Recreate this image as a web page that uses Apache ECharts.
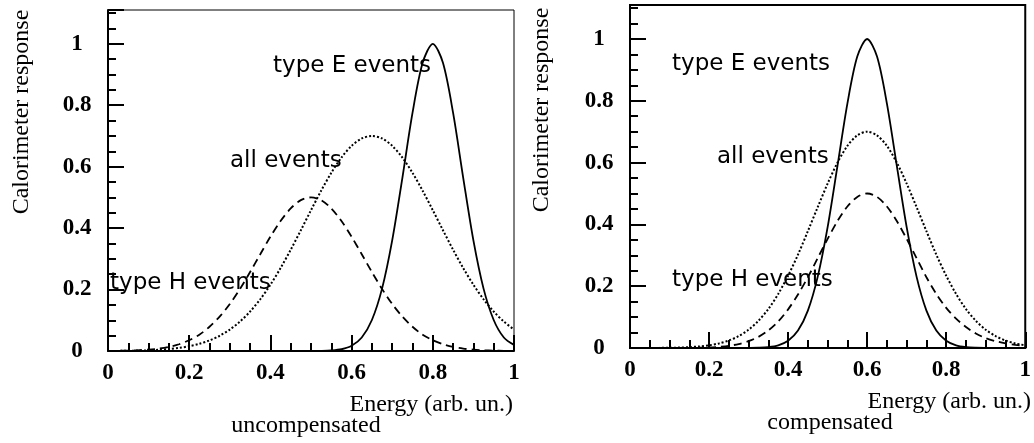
<!DOCTYPE html>
<html>
<head>
<meta charset="utf-8">
<script src="https://cdn.jsdelivr.net/npm/echarts@6/dist/echarts.min.js"></script>
<style>
html,body{margin:0;padding:0;background:#fff;}
#chart{width:1034px;height:443px;}
</style>
</head>
<body>
<div id="chart"></div>
<script>
// Energy grid (arb. un.)
const energy = [0,0.025,0.05,0.075,0.1,0.125,0.15,0.175,0.2,0.225,0.25,0.275,0.3,0.325,0.35,0.375,0.4,0.425,0.45,0.475,0.5,0.525,0.55,0.575,0.6,0.625,0.65,0.675,0.7,0.725,0.75,0.775,0.8,0.825,0.85,0.875,0.9,0.925,0.95,0.975,1];

// Uncompensated panel
const uncompTypeE = [0,0,0,0,0,0,0,0,0,0,0,0,0,0,0,0,0,0,0,0,0.0001,0.0004,0.0017,0.0057,0.017,0.044,0.101,0.203,0.36,0.563,0.775,0.938,1,0.938,0.775,0.563,0.36,0.203,0.101,0.044,0.02];
const uncompTypeH = [0.0003,0.0006,0.0013,0.0024,0.0044,0.0078,0.0134,0.022,0.035,0.053,0.079,0.112,0.153,0.202,0.257,0.315,0.372,0.423,0.464,0.491,0.5,0.491,0.464,0.423,0.372,0.315,0.257,0.202,0.153,0.112,0.079,0.053,0.035,0.022,0.0134,0.0078,0.0044,0.0024,0.0013,0.0006,0.0003];
const uncompAll = [0.0002,0.0004,0.0008,0.0014,0.0023,0.0039,0.0063,0.010,0.0155,0.0233,0.0344,0.0496,0.0697,0.0958,0.1285,0.1685,0.2157,0.2699,0.3296,0.3932,0.4582,0.5216,0.5799,0.6297,0.6678,0.6918,0.7,0.6918,0.6678,0.6297,0.5799,0.5216,0.4582,0.3932,0.3296,0.2699,0.2157,0.1685,0.1285,0.0958,0.0697];

// Compensated panel
const compTypeE = [0,0,0,0,0,0,0,0,0,0,0,0,0.0002,0.0008,0.0028,0.0087,0.0235,0.0565,0.121,0.231,0.391,0.59,0.791,0.943,1,0.943,0.791,0.59,0.391,0.231,0.121,0.0565,0.0235,0.0087,0.0028,0.0008,0.0002,0,0,0,0];
const compTypeH = [0,0,0,0,0.0001,0.0002,0.0004,0.0009,0.0019,0.0038,0.0071,0.0128,0.022,0.036,0.057,0.086,0.125,0.173,0.229,0.291,0.353,0.411,0.458,0.489,0.5,0.489,0.458,0.411,0.353,0.291,0.229,0.175,0.13,0.095,0.068,0.047,0.032,0.022,0.015,0.01,0.006];
const compAll = [0,0.0001,0.0002,0.0004,0.0007,0.0014,0.0027,0.0049,0.0087,0.0148,0.0243,0.0386,0.059,0.088,0.126,0.175,0.234,0.302,0.378,0.456,0.532,0.6,0.654,0.688,0.7,0.688,0.654,0.6,0.532,0.456,0.378,0.302,0.234,0.175,0.126,0.088,0.059,0.0386,0.0243,0.0148,0.0087];

const xTitle = 'Energy (arb. un.)';
const yTitle = 'Calorimeter response';
const panelTitles = ['uncompensated', 'compensated'];
const curveLabels = ['type E events', 'all events', 'type H events'];

const SERIF = '"Liberation Serif", "DejaVu Serif", serif';
const SANS = '"DejaVu Sans", sans-serif';

function pairs(ys){ return energy.map((x,i)=>[x, ys[i]]); }

const tickLabel = {color:'#000', fontFamily:SERIF, fontWeight:'bold', fontSize:23};

function majorX(g){
  return {gridIndex:g, type:'value', min:0, max:1, interval:0.2, position:'bottom',
    axisLine:{show:true, onZero:false, lineStyle:{color:'#000', width:2}},
    axisTick:{show:true, inside:true, length:16, lineStyle:{color:'#000', width:2}},
    axisLabel:Object.assign({margin:11, formatter:v=>String(+v.toFixed(1))}, tickLabel),
    splitLine:{show:false}};
}
function minorX(g){
  return {gridIndex:g, type:'value', min:0, max:1, interval:0.05, position:'bottom',
    axisLine:{show:false}, axisTick:{show:true, inside:true, length:8, lineStyle:{color:'#000', width:2}},
    axisLabel:{show:false}, splitLine:{show:false}};
}
function majorY(g){
  return {gridIndex:g, type:'value', min:0, max:1.11, interval:0.2, position:'left',
    axisLine:{show:true, onZero:false, lineStyle:{color:'#000', width:2}},
    axisTick:{show:true, inside:true, length:16, lineStyle:{color:'#000', width:2}},
    axisLabel:Object.assign({margin:31, align:'center',
      formatter:v=>(Math.abs(v*5-Math.round(v*5))<1e-6 ? String(+v.toFixed(1)) : '')}, tickLabel),
    splitLine:{show:false}};
}
function minorY(g){
  return {gridIndex:g, type:'value', min:0, max:1.11, interval:0.05, position:'left',
    axisLine:{show:false}, axisTick:{show:true, inside:true, length:8, lineStyle:{color:'#000', width:2}},
    axisLabel:{show:false}, splitLine:{show:false}};
}
function line(ax, ys, type, width){
  return {type:'line', xAxisIndex:ax, yAxisIndex:ax, data:pairs(ys), showSymbol:false, smooth:0.3,
    silent:true, lineStyle:{color:'#000', width:width, type:type}};
}
function txt(x, y, s, font, size, weight, align, rot){
  const el = {type:'text', x:x, y:y, silent:true,
    style:{text:s, fill:'#000', fontFamily:font, fontSize:size, fontWeight:weight||'normal',
      align:align||'left', verticalAlign:'top'}};
  if (rot) el.rotation = rot;
  return el;
}

const chart = echarts.init(document.getElementById('chart'), null, {renderer:'canvas'});
chart.setOption({
  animation:false,
  backgroundColor:'#fff',
  grid:[
    {left:108, top:10, width:406, height:341, show:true, borderColor:'#000', borderWidth:1, backgroundColor:'transparent'},
    {left:630, top:5, width:402, height:343, show:true, borderColor:'#000', borderWidth:2, backgroundColor:'transparent'}
  ],
  xAxis:[majorX(0), minorX(0), majorX(1), minorX(1)],
  yAxis:[majorY(0), minorY(0), majorY(1), minorY(1)],
  series:[
    line(0, uncompTypeE, 'solid', 1.8),
    line(0, uncompAll, 'dotted', 2),
    line(0, uncompTypeH, [8,5], 1.8),
    line(2, compTypeE, 'solid', 1.8),
    line(2, compAll, 'dotted', 2),
    line(2, compTypeH, [8,5], 1.8)
  ],
  graphic:[
    txt(273, 55, curveLabels[0], SANS, 23),
    txt(230, 150, curveLabels[1], SANS, 23),
    txt(110, 272, curveLabels[2], SANS, 23),
    txt(672, 53, curveLabels[0], SANS, 23),
    txt(717, 146, curveLabels[1], SANS, 23),
    txt(672, 269, curveLabels[2], SANS, 23),
    txt(10, 112, yTitle, SERIF, 24, 'normal', 'center', Math.PI/2),
    txt(530, 110, yTitle, SERIF, 24, 'normal', 'center', Math.PI/2),
    txt(513, 393, xTitle, SERIF, 24, 'normal', 'right'),
    txt(1031, 390, xTitle, SERIF, 24, 'normal', 'right'),
    txt(306, 414, panelTitles[0], SERIF, 24, 'normal', 'center'),
    txt(830, 411, panelTitles[1], SERIF, 24, 'normal', 'center')
  ]
});
</script>
</body>
</html>
